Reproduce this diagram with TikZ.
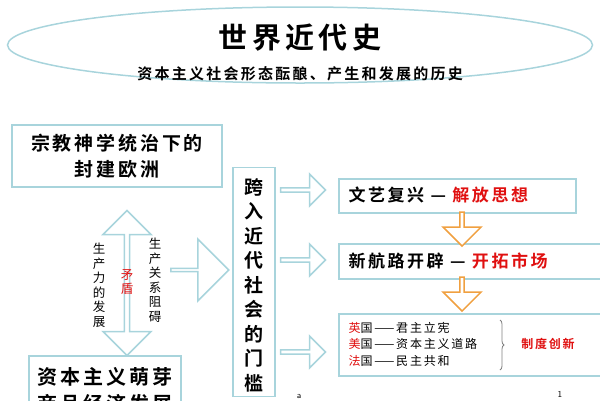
\documentclass[tikz,border=0pt]{standalone}
\usepackage{fontspec}
\usetikzlibrary{shapes.geometric,shapes.arrows,decorations.pathreplacing}
\newfontfamily\cjk[LetterSpace=15]{Noto Sans CJK SC}
\newfontfamily\cjkb[LetterSpace=15]{Noto Sans CJK SC Bold}
\definecolor{bl}{HTML}{A8D4DC}
\definecolor{og}{HTML}{F0A040}
\definecolor{rd}{HTML}{E01010}
\tikzset{
 bx/.style={draw=bl,line width=1.5pt,fill=white},
 harrow/.style={shape=single arrow,draw=bl,line width=1.5pt,fill=white,single arrow head extend=5pt,inner sep=0pt},
 oarrow/.style={shape=single arrow,draw=og,line width=1.5pt,fill=white,single arrow head extend=6pt,inner sep=0pt,rotate=-90},
 vt/.style={align=center,inner sep=0pt,font=\cjk\fontsize{12.5}{14.5}\selectfont},
}
\begin{document}
\begin{tikzpicture}[x=1pt,y=-1pt]
\useasboundingbox (0,0) rectangle (600,400);
\node[ellipse,draw=bl,line width=1.5pt,minimum width=585,minimum height=76] (ell) at (300,45) {};
\node[font=\cjkb\fontsize{29}{30}\selectfont] (title) at (300,38) {世界近代史};
\node[font=\cjkb\fontsize{15}{17}\selectfont] (sub) at (300,74) {资本主义社会形态酝酿、产生和发展的历史};
\node[bx,minimum width=210,minimum height=62,align=center,font=\cjkb\fontsize{19}{26}\selectfont] (feud) at (117,156) {宗教神学统治下的\\封建欧洲};
\node[shape=double arrow,draw=bl,line width=1.5pt,fill=white,rotate=90,minimum width=48,minimum height=145,double arrow head extend=6pt,inner sep=0pt] (dbl) at (127,283) {};
\node[vt] (l1) at (99,285) {生\\产\\力\\的\\发\\展};
\node[vt,text=rd] (l2) at (127,282) {矛\\盾};
\node[vt] (l3) at (155,280) {生\\产\\关\\系\\阻\\碍};
\node[bx,minimum width=152,minimum height=70,align=center,font=\cjkb\fontsize{20}{27}\selectfont,anchor=north west] (cap) at (28,355) {资本主义萌芽\\商品经济发展};
\node[harrow,minimum width=62,minimum height=58,single arrow head extend=14pt] (ar0) at (199,270) {};
\node[bx,minimum width=42,minimum height=229] (gate) at (254,282) {};
\node[vt,font=\cjkb\fontsize{19}{24.5}\selectfont] (gatet) at (254,285) {跨\\入\\近\\代\\社\\会\\的\\门\\槛};
\node[harrow,minimum width=32,minimum height=45] (a1) at (302,190) {};
\node[harrow,minimum width=32,minimum height=45] (a2) at (302,260) {};
\node[harrow,minimum width=32,minimum height=45] (a3) at (302,352) {};
\node[bx,minimum width=237,minimum height=34,anchor=north west] (ba) at (338,178) {};
\node[font=\cjkb\fontsize{17}{19}\selectfont,anchor=west] at (345,195) {文艺复兴 — \textcolor{rd}{解放思想}};
\node[bx,minimum width=262,minimum height=35,anchor=north west] (bb) at (338,243) {};
\node[oarrow,minimum width=38,minimum height=34] (o1) at (462,228) {};
\node[font=\cjkb\fontsize{17}{19}\selectfont,anchor=west] at (345,261) {新航路开辟 — \textcolor{rd}{开拓市场}};
\node[bx,minimum width=262,minimum height=62,anchor=north west] (bc) at (338,313) {};
\node[oarrow,minimum width=38,minimum height=34] (o2) at (462,293) {};
\node[anchor=west,align=left,font=\cjk\fontsize{12}{16.5}\selectfont] (list) at (345,344) {\textcolor{rd}{英}国——君主立宪\\\textcolor{rd}{美}国——资本主义道路\\\textcolor{rd}{法}国——民主共和};
\draw[decorate,decoration={brace,amplitude=4pt},gray,line width=0.8pt] (500,320) -- (500,370);
\node[font=\cjkb\fontsize{12}{14}\selectfont,text=rd] (inn) at (548,344) {制度创新};
\node[font=\sffamily\fontsize{9}{10}\selectfont] (pa) at (299,396) {a};
\node[font=\sffamily\fontsize{9}{10}\selectfont] (p1) at (560,394) {1};
\end{tikzpicture}
\end{document}
